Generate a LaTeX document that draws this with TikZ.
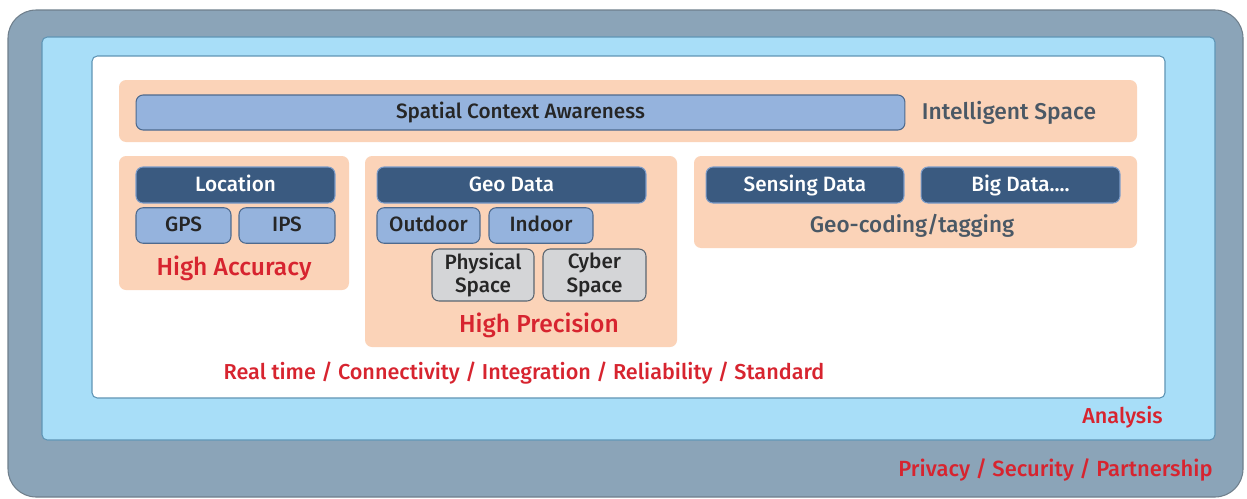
\documentclass[tikz,border=0pt]{standalone}
\usepackage{fontspec}
\setmainfont{Fira Sans Medium}
\usetikzlibrary{fit}
\usetikzlibrary{positioning}

\definecolor{outerfill}{HTML}{8BA4B8}
\definecolor{outerline}{HTML}{6F7F8C}
\definecolor{skyfill}{HTML}{A8DEF8}
\definecolor{skyline}{HTML}{5F95B5}
\definecolor{peach}{HTML}{FBD3B8}
\definecolor{bluefill}{HTML}{95B3DD}
\definecolor{blueline}{HTML}{4E6A8E}
\definecolor{navyfill}{HTML}{3A5A80}
\definecolor{navyline}{HTML}{7C9CC9}
\definecolor{grayfill}{HTML}{D4D5D7}
\definecolor{grayline}{HTML}{5A6570}
\definecolor{redtext}{HTML}{D7242F}
\definecolor{slatetext}{HTML}{4A5865}

\tikzset{
  area/.style={inner sep=0pt, rounded corners=4pt},
  peachbox/.style={area, fill=peach},
  boxtext/.style={area, line width=0.6pt, font=\fontsize{11.8}{13.5}\selectfont,
    minimum height=0.71cm},
  bluebox/.style={boxtext, fill=bluefill, draw=blueline, text=black!85,
    text height=1.35ex, text depth=0pt},
  navybox/.style={boxtext, fill=navyfill, draw=navyline, text=white,
    text height=1.35ex, text depth=0pt},
  graybox/.style={boxtext, fill=grayfill, draw=grayline, text=black!85,
    align=center, minimum height=1.04cm},
  redlabel/.style={text=redtext, inner sep=0pt},
}

\begin{document}
\begin{tikzpicture}[x=0.02cm,y=-0.02cm]
  \useasboundingbox (0,0) rectangle (1247,498);

  \node[area, rounded corners=16pt, fill=outerfill, draw=outerline, line width=0.6pt,
    fit={(8,10) (1243,497)}] (privacy) {};
  \node[area, rounded corners=3pt, fill=skyfill, draw=skyline, line width=0.6pt,
    fit={(42,37) (1215,440)}] (analysis) {};
  \node[area, rounded corners=3pt, fill=white, draw=skyline, line width=0.6pt,
    fit={(92,56) (1165,398)}] (core) {};

  % intelligent space
  \node[peachbox, fit={(119,80) (1137,142)}] (space) {};
  \node[bluebox, minimum width=15.38cm, minimum height=0.70cm] (spatial) at (520.5,112.5)
    {Spatial Context Awareness};
  \node[text=slatetext, font=\fontsize{13}{15}\selectfont] (intel) at (1009,113) {Intelligent Space};

  % high accuracy
  \node[peachbox, fit={(119,156) (349,290)}] (accuracy) {};
  \node[navybox, minimum width=3.98cm, minimum height=0.72cm] (location) at (235.5,185) {Location};
  \node[bluebox, minimum width=1.90cm] (gps) at (183.5,225.5) {GPS};
  \node[bluebox, minimum width=1.92cm] (ips) at (287,225.5) {IPS};
  \node[redlabel, font=\fontsize{14}{16}\selectfont] (acclabel) at (234,268) {High Accuracy};

  % high precision
  \node[peachbox, fit={(365,156) (677,347)}] (precision) {};
  \node[navybox, minimum width=5.38cm, minimum height=0.72cm] (geodata) at (511.5,185) {Geo Data};
  \node[bluebox, minimum width=2.06cm] (outdoor) at (428.5,225.5) {Outdoor};
  \node[bluebox, minimum width=2.08cm] (indoor) at (541,225.5) {Indoor};
  \node[graybox, minimum width=2.04cm] (physical) at (483,275) {Physical\\Space};
  \node[graybox, minimum width=2.06cm] (cyber) at (594.5,275) {Cyber\\Space};
  \node[redlabel, font=\fontsize{14}{16}\selectfont] (prelabel) at (539,325) {High Precision};

  % geo-coding
  \node[peachbox, fit={(694,156) (1137,248)}] (geocoding) {};
  \node[navybox, minimum width=3.96cm, minimum height=0.72cm] (sensing) at (805,185) {Sensing Data};
  \node[navybox, minimum width=3.98cm, minimum height=0.72cm] (bigdata) at (1020.5,185) {Big Data....};
  \node[text=slatetext, font=\fontsize{12.8}{15}\selectfont] (geolabel) at (912,226) {Geo-coding/tagging};

  \node[redlabel, font=\fontsize{12.3}{14}\selectfont] (realtime) at (524,373)
    {Real time / Connectivity / Integration / Reliability / Standard};
  \node[redlabel, anchor=east, font=\fontsize{12.3}{14}\selectfont] (anlabel) at (1163,417) {Analysis};
  \node[redlabel, anchor=east, font=\fontsize{12.5}{14}\selectfont] (privlabel) at (1213,470)
    {Privacy / Security / Partnership};
\end{tikzpicture}
\end{document}
